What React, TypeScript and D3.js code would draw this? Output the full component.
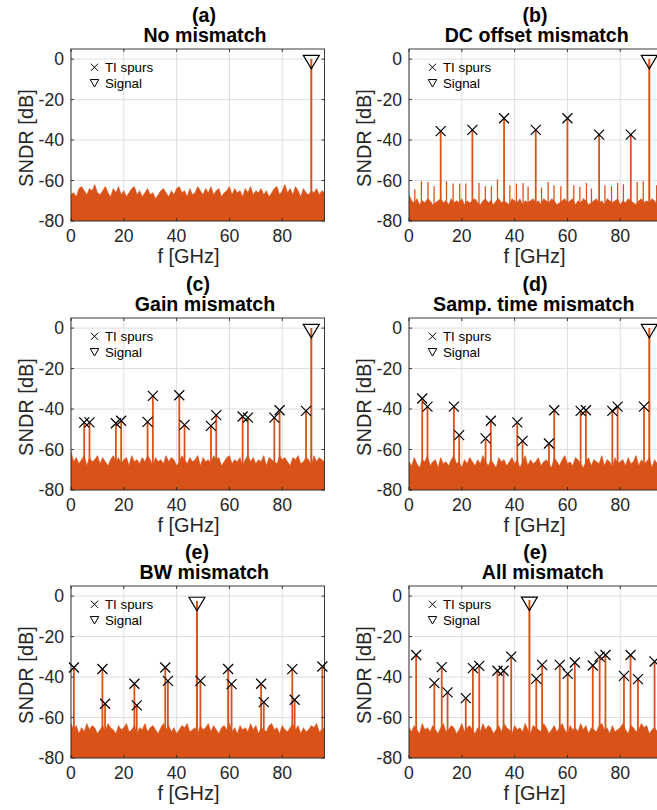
import React from "react";
import * as d3 from "d3";

// ---------------- data ----------------
const xTicks = [0, 20, 40, 60, 80];
const yTicks = [-80, -60, -40, -20, 0];
const panelLetters = ["(a)", "(b)", "(c)", "(d)", "(e)", "(e)"];
const panelNames = ["No mismatch", "DC offset mismatch", "Gain mismatch", "Samp. time mismatch", "BW mismatch", "All mismatch"];
const legendLabels = ["TI spurs", "Signal"];

const signalF = [91, 91, 91, 91, 47.7, 45.6];
const signalPeakDb = [0, 0, 0, 0, -2.4, -1.9];
const signalMarkerDb = [-1.5, -1.5, -1.5, -1.5, -3.9, -3.8];

const dcSpurF = [12, 24, 36, 48, 60, 72, 84];
const dcSpurDb = [-35.6, -35, -29.2, -35, -29.2, -37.3, -37.3];
const dcSmallF = [2.2, 4.7, 7.2, 9.5, 14.2, 16.7, 19.2, 21.5, 26.5, 28.9, 31.2, 33.5, 38.2, 40.7, 43.2, 45.1, 50.2, 52.7, 54.9, 57.5, 62.4, 64.7, 67.2, 69.1, 74.2, 76.7, 79, 81.2, 86.4, 88.7, 93.8];
const dcSmallDb = [-64.3, -60.3, -60.7, -62.8, -60.3, -61.5, -61.5, -61.5, -61.2, -62.8, -62.8, -59.5, -62.3, -61.5, -61.2, -63, -63.5, -60.7, -62.3, -62.8, -62.3, -63.1, -61.2, -64, -62.3, -62.8, -61.2, -61.8, -60.7, -60.3, -62.3];

const gainSpurF = [5, 7, 17, 19, 29, 31, 41, 43, 53, 55, 65, 67, 77, 79, 89];
const gainSpurDb = [-46.6, -46.6, -47, -45.8, -46.3, -33.5, -33.2, -47.8, -48.3, -43, -43.7, -44.2, -44.2, -40.6, -40.9];

const timeSpurF = [5, 7, 17, 19, 29, 31, 41, 43, 53, 55, 65, 67, 77, 79, 89];
const timeSpurDb = [-34.8, -38.8, -38.8, -52.9, -54.5, -45.8, -46.6, -55.7, -57, -40.6, -40.9, -40.6, -40.9, -38.8, -38.8];

const bwSpurF = [1.1, 11.9, 12.9, 24, 24.9, 35.7, 36.7, 49, 59.5, 60.8, 72, 73, 83.8, 84.7, 95.2];
const bwSpurDb = [-35.3, -36, -53.2, -43.3, -54, -35.3, -41.9, -41.9, -36, -43.5, -43.3, -52.4, -36.1, -51.2, -34.8];

const allSpurF = [2.7, 9.6, 12.4, 14.6, 21.5, 24.2, 26.6, 33.5, 35.8, 38.7, 48.2, 50.4, 57.1, 60.1, 62.8, 69.6, 72.2, 74.4, 81.4, 83.9, 86.7, 93];
const allSpurDb = [-29.1, -43, -35.1, -47.6, -50.4, -35.6, -34.5, -36.9, -36.9, -29.9, -40.9, -34, -34, -38.4, -32.8, -34.3, -29.9, -29.1, -39.4, -29.1, -41, -32.3];

// noise-floor top profile, one value per GHz (0..96)
const noiseA = [
  -67, -66, -68, -64, -63, -65, -67, -64, -65, -62, -66,
  -67, -65, -63, -66, -68, -64, -66, -63, -67, -65,
  -68, -66, -64, -63, -67, -65, -68, -66, -64, -67,
  -66, -69, -67, -65, -64, -66, -68, -65, -67, -64,
  -63, -66, -65, -68, -64, -67, -66, -63, -65, -67,
  -64, -66, -63, -67, -65, -64, -68, -66, -65, -63,
  -67, -64, -66, -65, -68, -64, -66, -63, -67, -65,
  -66, -64, -67, -65, -68, -66, -64, -63, -67, -65,
  -62, -66, -64, -67, -63, -65, -68, -64, -66, -67,
  -65, -66, -64, -67, -65, -66,
];
const noiseB = [
  -67, -70, -71, -69, -72, -70, -71, -69, -70, -72, -71, -70, -69, -71, -70, -72, -69, -71, -70, -71,
  -69, -72, -70, -71, -70, -69, -71, -72, -70, -69, -71, -70, -72, -70, -69, -71, -70, -71, -72, -69,
  -70, -71, -69, -72, -70, -71, -70, -69, -71, -70, -72, -69, -70, -71, -69, -70, -72, -71, -70, -69,
  -71, -70, -69, -72, -70, -71, -69, -70, -72, -71, -70, -69, -71, -70, -72, -69, -70, -71, -70, -69,
  -72, -70, -71, -69, -70, -71, -72, -70, -69, -71, -70, -71, -69, -70, -72, -71, -70,
];
const noiseC = [
  -61, -66, -64, -67, -65, -63, -68, -64, -66, -65, -63, -67, -64, -66, -68, -65, -63, -66, -64, -67,
  -65, -64, -68, -63, -66, -65, -67, -64, -66, -63, -65, -68, -64, -66, -65, -67, -63, -66, -64, -65,
  -68, -66, -63, -65, -67, -64, -66, -65, -63, -68, -64, -66, -65, -67, -63, -65, -64, -68, -66, -64,
  -63, -67, -65, -66, -64, -68, -65, -63, -66, -64, -67, -65, -66, -63, -68, -64, -65, -66, -67, -63,
  -65, -64, -66, -68, -64, -65, -63, -67, -66, -64, -65, -68, -63, -66, -64, -65, -66,
];
const noiseD = [
  -66, -68, -64, -67, -69, -65, -66, -63, -68, -66, -65, -69, -64, -67, -66, -68, -65, -63, -67, -66,
  -69, -65, -67, -64, -66, -68, -65, -67, -63, -66, -68, -65, -67, -69, -64, -66, -65, -68, -66, -64,
  -67, -65, -69, -66, -63, -68, -65, -67, -66, -64, -68, -66, -65, -67, -69, -64, -66, -68, -65, -63,
  -67, -66, -68, -64, -65, -67, -69, -66, -64, -68, -65, -66, -67, -63, -68, -65, -66, -69, -64, -67,
  -66, -65, -68, -64, -67, -66, -63, -68, -65, -67, -66, -64, -69, -65, -67, -66, -65,
];
const noiseE = [
  -63, -66, -64, -68, -65, -67, -63, -66, -64, -65, -68, -66, -64, -67, -63, -65, -66, -68, -64, -66,
  -65, -63, -67, -66, -64, -68, -65, -66, -63, -67, -65, -64, -66, -68, -65, -63, -66, -64, -67, -65,
  -68, -66, -64, -65, -63, -67, -66, -65, -68, -64, -66, -65, -63, -67, -64, -66, -68, -65, -64, -66,
  -63, -67, -65, -68, -64, -66, -65, -67, -63, -66, -64, -68, -65, -66, -67, -64, -63, -66, -65, -68,
  -64, -66, -67, -65, -63, -66, -64, -68, -65, -67, -66, -64, -65, -63, -67, -66, -65,
];
const noiseF = [
  -65, -67, -64, -66, -68, -63, -66, -65, -67, -64, -66, -68, -65, -63, -67, -66, -64, -65, -68, -66,
  -63, -67, -65, -64, -66, -68, -65, -67, -63, -66, -64, -65, -68, -66, -64, -67, -63, -65, -66, -68,
  -64, -66, -65, -67, -63, -66, -68, -64, -65, -66, -67, -63, -65, -68, -66, -64, -67, -65, -63, -66,
  -68, -64, -66, -65, -67, -63, -66, -64, -68, -65, -66, -67, -64, -63, -66, -65, -68, -64, -67, -66,
  -65, -63, -66, -68, -64, -65, -67, -66, -63, -65, -64, -68, -66, -65, -67, -64, -66,
];

// ---------------- layout / style ----------------
const ORANGE = "#D95319";
const AX = "#262626";
const FONT = "'Liberation Sans', Arial, Helvetica, sans-serif";
const colLeft = [71, 409];
const axW = 253.5;
const rowTop = [49, 318, 586];
const axH = 172;
const title1X = [204, 535, 198, 535, 197, 535.3];
const title2X = [205, 536.7, 205, 533.8, 204.3, 542.8];
const xLabelX = [188.5, 534.5];

const panels = [
  { noise: noiseA, spurF: [], spurDb: [], smallF: [], smallDb: [] },
  { noise: noiseB, spurF: dcSpurF, spurDb: dcSpurDb, smallF: dcSmallF, smallDb: dcSmallDb },
  { noise: noiseC, spurF: gainSpurF, spurDb: gainSpurDb, smallF: [], smallDb: [] },
  { noise: noiseD, spurF: timeSpurF, spurDb: timeSpurDb, smallF: [], smallDb: [] },
  { noise: noiseE, spurF: bwSpurF, spurDb: bwSpurDb, smallF: [], smallDb: [] },
  { noise: noiseF, spurF: allSpurF, spurDb: allSpurDb, smallF: [], smallDb: [] },
];

const crossPath = (cx: number, cy: number, s: number) =>
  `M${cx - s},${cy - s}L${cx + s},${cy + s}M${cx - s},${cy + s}L${cx + s},${cy - s}`;
const triPath = (cx: number, cy: number, w: number, h: number) =>
  `M${cx - w / 2},${cy - h / 2}L${cx + w / 2},${cy - h / 2}L${cx},${cy + h / 2}Z`;

function Panel({ i }: { i: number }) {
  const p = panels[i];
  const col = i % 2;
  const row = Math.floor(i / 2);
  const left = colLeft[col];
  const top = rowTop[row];
  const right = left + axW;
  const bottom = top + axH;
  const x = d3.scaleLinear().domain([0, 96]).range([left, right]);
  const y = d3.scaleLinear().domain([-80, 5]).range([bottom, top]);
  const clipId = `clip${i}`;
  const area = d3
    .area<number>()
    .x((_, k) => x(k))
    .y0(y(-85))
    .y1((d) => y(d));
  const stem = (f: number, db: number) => `M${x(f)},${y(-85)}L${x(f)},${y(db)}`;
  const tl = 3;
  return (
    <g>
      <defs>
        <clipPath id={clipId}>
          <rect x={left} y={top} width={axW} height={axH} />
        </clipPath>
      </defs>
      <rect x={left} y={top} width={axW} height={axH} fill="#fff" />
      {/* grid */}
      <g stroke="#dedede" strokeWidth={1}>
        {xTicks.map((t) => (
          <line key={"gx" + t} x1={x(t)} x2={x(t)} y1={top} y2={bottom} />
        ))}
        {yTicks.map((t) => (
          <line key={"gy" + t} x1={left} x2={right} y1={y(t)} y2={y(t)} />
        ))}
      </g>
      {/* data */}
      <g clipPath={`url(#${clipId})`}>
        <path d={area(p.noise) || ""} fill={ORANGE} stroke={ORANGE} strokeWidth={0.6} />
        {p.smallF.map((f, k) => (
          <path key={"sm" + k} d={stem(f, p.smallDb[k])} stroke={ORANGE} strokeWidth={1.3} />
        ))}
        {p.spurF.map((f, k) => (
          <path key={"sp" + k} d={stem(f, p.spurDb[k])} stroke={ORANGE} strokeWidth={1.8} />
        ))}
        <path d={stem(signalF[i], signalPeakDb[i])} stroke={ORANGE} strokeWidth={2} />
      </g>
      {/* box and ticks */}
      <rect x={left} y={top} width={axW} height={axH} fill="none" stroke={AX} strokeWidth={0.9} />
      <g stroke={AX} strokeWidth={0.9}>
        {xTicks.map((t) => (
          <g key={"tx" + t}>
            <line x1={x(t)} x2={x(t)} y1={bottom} y2={bottom - tl} />
            <line x1={x(t)} x2={x(t)} y1={top} y2={top + tl} />
          </g>
        ))}
        {yTicks.map((t) => (
          <g key={"ty" + t}>
            <line x1={left} x2={left + tl} y1={y(t)} y2={y(t)} />
            <line x1={right} x2={right - tl} y1={y(t)} y2={y(t)} />
          </g>
        ))}
      </g>
      {/* markers */}
      <g stroke="#000" strokeWidth={1.2} fill="none">
        {p.spurF.map((f, k) => (
          <path key={"mk" + k} d={crossPath(x(f), y(p.spurDb[k]), 5)} />
        ))}
        <path d={triPath(x(signalF[i]), y(signalMarkerDb[i]), 16, 13.5)} />
      </g>
      {/* tick labels */}
      <g fontSize={17.6} fill={AX}>
        {xTicks.map((t) => (
          <text key={"lx" + t} x={x(t)} y={bottom + 21.3} textAnchor="middle">
            {t}
          </text>
        ))}
        {yTicks.map((t) => (
          <text key={"ly" + t} x={left - 7} y={y(t) + 6.3} textAnchor="end">
            {t}
          </text>
        ))}
      </g>
      {/* axis labels */}
      <text x={xLabelX[col]} y={bottom + 42} textAnchor="middle" fontSize={20} fill={AX}>
        f [GHz]
      </text>
      <text
        transform={`translate(${left - 38},${(top + bottom) / 2 + 3}) rotate(-90)`}
        textAnchor="middle"
        fontSize={20}
        fill={AX}
      >
        SNDR [dB]
      </text>
      {/* titles */}
      <text x={title1X[i]} y={top - 27.3} textAnchor="middle" fontSize={19.6} fontWeight="bold" fill="#000">
        {panelLetters[i]}
      </text>
      <text x={title2X[i]} y={top - 7.4} textAnchor="middle" fontSize={19.6} fontWeight="bold" fill="#000">
        {panelNames[i]}
      </text>
      {/* legend */}
      <g>
        <path d={crossPath(left + 23.5, top + 18.3, 3.6)} stroke="#000" strokeWidth={1} fill="none" />
        <path d={triPath(left + 23.5, top + 34.3, 8.5, 7.5)} stroke="#000" strokeWidth={1} fill="none" />
        <text x={left + 34} y={top + 22.7} fontSize={13.3} fill="#000">
          {legendLabels[0]}
        </text>
        <text x={left + 34} y={top + 39.3} fontSize={13.3} fill="#000">
          {legendLabels[1]}
        </text>
      </g>
    </g>
  );
}

export default function App() {
  return (
    <svg
      width={657}
      height={810}
      style={{ position: "absolute", left: 0, top: 0, background: "#fff" }}
      fontFamily={FONT}
    >
      <rect width={657} height={810} fill="#fff" />
      {panels.map((_, i) => (
        <Panel key={i} i={i} />
      ))}
    </svg>
  );
}
